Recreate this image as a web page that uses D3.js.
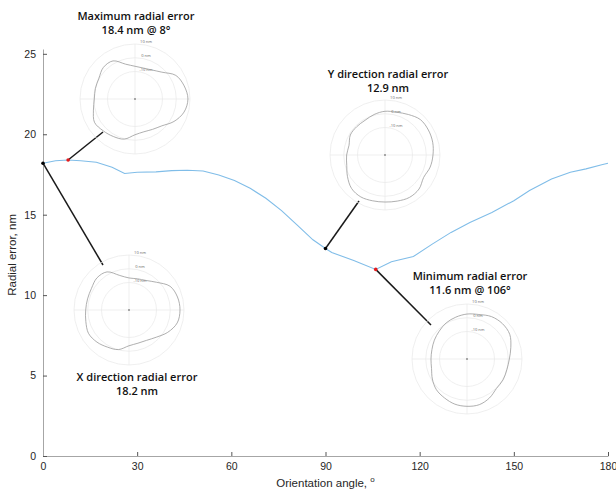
<!DOCTYPE html>
<html>
<head>
<meta charset="utf-8">
<script src="https://cdn.jsdelivr.net/npm/d3@7"></script>
<style>
  body{margin:0;background:#fff;}
  svg{display:block;}
</style>
</head>
<body>
<svg class="chart"></svg>
<script>
// main curve: radial error vs orientation angle
var angles = [0,4,8,12,17,22,26,30,36,41,46,51,56,61,66,71,76,81,86,90,92,99,106,111,118,124,130,136,143,150,155,162,168,173,178,180];
var errors = [18.2,18.35,18.4,18.35,18.26,17.95,17.56,17.64,17.66,17.74,17.76,17.72,17.47,17.12,16.64,16.02,15.25,14.35,13.44,12.9,12.65,12.15,11.6,12.07,12.4,13.17,13.9,14.52,15.14,15.87,16.5,17.22,17.64,17.85,18.1,18.2];
var xTicks = [0,30,60,90,120,150,180];
var yTicks = [0,5,10,15,20,25];

// highlighted points
var marks = [
  {angle:0,   value:18.2, color:"black"},
  {angle:8,   value:18.4, color:"#e41a1c"},
  {angle:90,  value:12.9, color:"black"},
  {angle:106, value:11.6, color:"#e41a1c"}
];

// polar insets, radial deviation (nm) every 15 degrees
var polarAngles = [0,15,30,45,60,75,90,105,120,135,150,165,180,195,210,225,240,255,270,285,300,315,330,345];
var maxProfile = [8.5,7,4.3,-2.4,-5.6,-6.7,-6.2,-3.8,2,2.5,0.3,-0.2,-0.4,1.3,4,2.7,1.5,0.2,-4,-5.3,-4.5,-2.4,2.7,6.9];
var xProfile   = [7.1,6.5,4.5,-1.5,-5.2,-6.5,-6.7,-4,2,3,1.5,1.2,1.5,2.5,4,3,1.2,-0.2,-4,-5,-4.5,-2,2.5,6.3];
var yProfile   = [4.9,5.9,6.4,6.4,4,2.2,1.8,0.5,-0.9,-0.9,-0.9,-2.9,-2.1,-1.2,1.5,4.4,5.2,4.5,4.2,4.7,5.6,5,2.5,4];
var minProfile = [0.8,3,5.9,6.4,5.6,3.5,2.7,1.5,0.3,-1.4,-2.6,-3.6,-3.8,-3.3,-0.9,1.5,2.7,4,4.4,4.4,2.7,0.3,0.3,0];
var ringValues = [-10,0,10];
var ringLabels = ["-10 nm","0 nm","10 nm"];

var insets = [
  {profile:maxProfile, cx:135, cy:99,  title:["Maximum radial error","18.4 nm @ 8\u00b0"], tx:136, ty:20,  mark:1, end:[-32,33]},
  {profile:yProfile,   cx:385, cy:155, title:["Y direction radial error","12.9 nm"],        tx:388, ty:78,  mark:2, end:[-26,46]},
  {profile:xProfile,   cx:129, cy:310, title:["X direction radial error","18.2 nm"],        tx:137, ty:381, mark:0, end:[-26,-45]},
  {profile:minProfile, cx:467, cy:359, title:["Minimum radial error","11.6 nm @ 106\u00b0"], tx:470, ty:280, mark:3, end:[-36,-34]}
];

var width = 616;
var height = 495;

var svg = d3.select(".chart")
  .attr("width",width)
  .attr("height",height);

var x = d3.scaleLinear().domain([0,180]).range([43,608]);
var y = d3.scaleLinear().domain([0,25.3]).range([456,49]);

// axes
var xAxis = svg.append("g")
  .attr("transform","translate(0,"+y(0)+")")
  .call(d3.axisBottom(x).tickValues(xTicks).tickSizeInner(-4).tickSizeOuter(0).tickPadding(7));
var yAxis = svg.append("g")
  .attr("transform","translate("+x(0)+",0)")
  .call(d3.axisLeft(y).tickValues(yTicks).tickSizeInner(-4).tickSizeOuter(0).tickPadding(7));

[xAxis,yAxis].forEach(function(a){
  a.select(".domain").attr("stroke","#a6a6a6");
  a.selectAll(".tick line").attr("stroke","#555");
  a.selectAll("text")
   .attr("fill","#262626")
   .style("font-family","'Liberation Sans', Arial, sans-serif")
   .style("font-size","10.5px");
});

// axis labels
var xLabel = svg.append("text")
  .attr("x",(x(0)+x(180))/2)
  .attr("y",487)
  .attr("text-anchor","middle")
  .attr("fill","#262626")
  .style("font-family","'Liberation Sans', Arial, sans-serif")
  .style("font-size","11.5px")
  .text("Orientation angle, ");
xLabel.append("tspan")
  .attr("dy",-5)
  .style("font-size","8px")
  .text("o");

svg.append("text")
  .attr("transform","translate(16,"+y(12.5)+") rotate(-90)")
  .attr("text-anchor","middle")
  .attr("fill","#262626")
  .style("font-family","'Liberation Sans', Arial, sans-serif")
  .style("font-size","11.5px")
  .text("Radial error, nm");

// the main line
var line = d3.line()
  .x(function(d,i){return x(angles[i]);})
  .y(function(d){return y(d);});

svg.append("path")
  .datum(errors)
  .attr("d",line)
  .attr("fill","none")
  .attr("stroke","#80bde8")
  .attr("stroke-width",1.1);

// polar insets
var r = d3.scaleLinear().domain([-30,10]).range([0,55]);

var radial = d3.lineRadial()
  .angle(function(d,i){return Math.PI/2 - polarAngles[i]*Math.PI/180;})
  .radius(function(d){return r(d);})
  .curve(d3.curveCatmullRomClosed);

insets.forEach(function(ins){
  var m = marks[ins.mark];

  // connector from the curve point to the inset
  svg.append("line")
    .attr("x1",x(m.angle))
    .attr("y1",y(m.value))
    .attr("x2",ins.cx+ins.end[0])
    .attr("y2",ins.cy+ins.end[1])
    .attr("stroke","#1a1a1a")
    .attr("stroke-width",1.5);

  var g = svg.append("g")
    .attr("transform","translate("+ins.cx+","+ins.cy+")");

  g.selectAll("circle.ring")
    .data(ringValues)
    .enter()
    .append("circle")
    .attr("class","ring")
    .attr("r",function(d){return r(d);})
    .attr("fill","none")
    .attr("stroke","#ebebeb")
    .attr("stroke-width",0.8);

  g.append("line")
    .attr("x1",-r(10)).attr("x2",r(10))
    .attr("y1",0).attr("y2",0)
    .attr("stroke","#ebebeb").attr("stroke-width",0.8);
  g.append("line")
    .attr("x1",0).attr("x2",0)
    .attr("y1",-r(10)).attr("y2",r(10))
    .attr("stroke","#ebebeb").attr("stroke-width",0.8);

  g.selectAll("text.rlab")
    .data(ringValues)
    .enter()
    .append("text")
    .attr("class","rlab")
    .attr("x",11)
    .attr("y",function(d){return -r(d)-1;})
    .attr("text-anchor","middle")
    .attr("fill","#666")
    .style("font-family","'Open Sans', sans-serif")
    .style("font-size","4px")
    .text(function(d,i){return ringLabels[i];});

  g.append("path")
    .datum(ins.profile)
    .attr("d",radial)
    .attr("fill","none")
    .attr("stroke","#9a9a9a")
    .attr("stroke-width",0.8);

  g.append("circle")
    .attr("r",0.8)
    .attr("fill","#444");

  // inset title
  svg.selectAll(null)
    .data(ins.title)
    .enter()
    .append("text")
    .attr("x",ins.tx)
    .attr("y",function(d,i){return ins.ty + i*13.5;})
    .attr("text-anchor","middle")
    .attr("fill","#111")
    .style("font-family","'Open Sans', sans-serif")
    .style("font-weight","600")
    .style("font-size","11px")
    .text(function(d){return d;});
});

// marked points on top
svg.selectAll("circle.mark")
  .data(marks)
  .enter()
  .append("circle")
  .attr("class","mark")
  .attr("cx",function(d){return x(d.angle);})
  .attr("cy",function(d){return y(d.value);})
  .attr("r",1.8)
  .attr("fill",function(d){return d.color;});
</script>
</body>
</html>
